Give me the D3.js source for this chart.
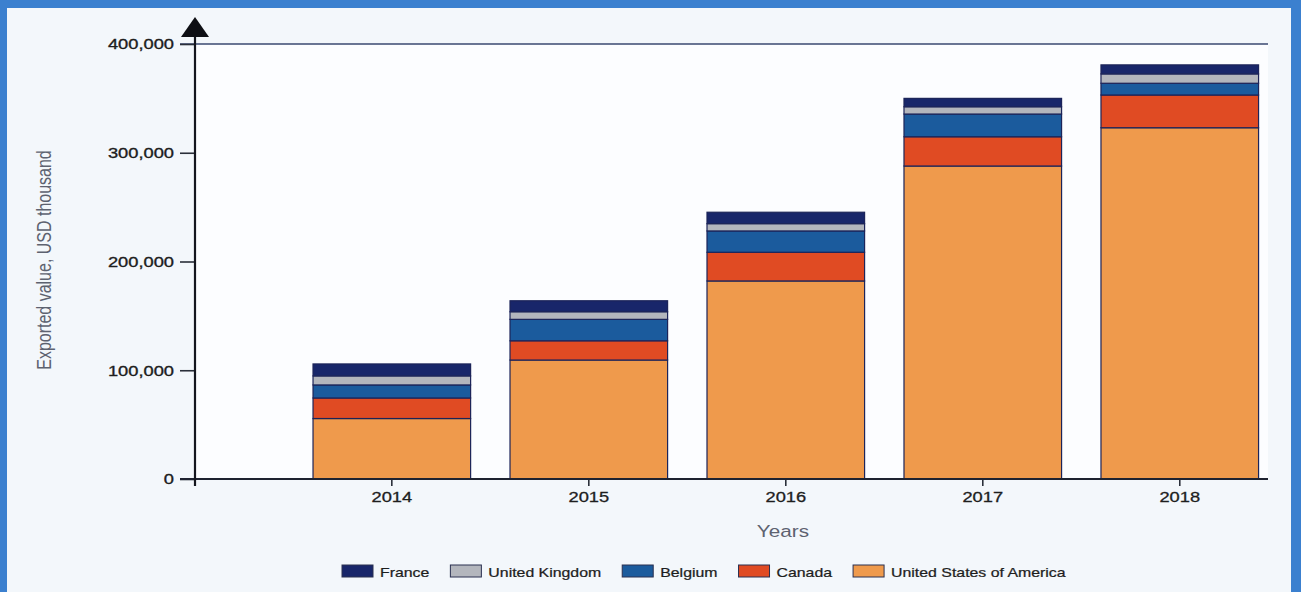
<!DOCTYPE html>
<html>
<head>
<meta charset="utf-8">
<script src="https://cdn.jsdelivr.net/npm/d3@7"></script>
<style>
  html, body { margin: 0; padding: 0; background: #3b80cf; }
  svg { display: block; }
  text { font-family: "Liberation Sans", Arial, sans-serif; }
</style>
</head>
<body>
<svg id="chart" width="1301" height="592"></svg>
<script>
// Export values (USD thousand) by destination, per year
const years = ["2014", "2015", "2016", "2017", "2018"];
const france = [11000, 10100, 10500, 7700, 8300];
const unitedKingdom = [8300, 7000, 6700, 6700, 8600];
const belgium = [12000, 19700, 19600, 20900, 10800];
const canada = [18900, 17700, 26400, 26900, 30100];
const usa = [55600, 109400, 182100, 287800, 323000];
const yTicks = [0, 100000, 200000, 300000, 400000];

// Stack order: bottom to top
const seriesNames = ["United States of America", "Canada", "Belgium", "United Kingdom", "France"];
const seriesValues = [usa, canada, belgium, unitedKingdom, france];
const seriesColors = ["#ef9a4c", "#e04b23", "#1b5b9d", "#b3b6bd", "#18266a"];
// Legend order, left to right
const legendNames = ["France", "United Kingdom", "Belgium", "Canada", "United States of America"];

const rows = years.map((yr, i) => {
  const r = { year: yr };
  seriesNames.forEach((n, k) => { r[n] = seriesValues[k][i]; });
  return r;
});

const svg = d3.select("#chart");
const W = 1301, H = 592;
const STRETCH = 1.22; // horizontally widened lettering

// Frame
svg.append("rect").attr("x", 0).attr("y", 0).attr("width", W).attr("height", H).attr("fill", "#3b80cf");
svg.append("rect").attr("x", 7).attr("y", 8).attr("width", 1284).attr("height", H - 8).attr("fill", "#f3f7fb");

const plot = { left: 195, right: 1268, top: 44, bottom: 479 };
svg.append("rect").attr("x", plot.left).attr("y", plot.top)
  .attr("width", plot.right - plot.left).attr("height", plot.bottom - plot.top)
  .attr("fill", "#fcfdff");

const x = d3.scaleBand().domain(years).range([plot.left, plot.right])
  .paddingInner(0.2).paddingOuter(0.3235).align(0.926);
const y = d3.scaleLinear().domain([0, 400000]).range([plot.bottom, plot.top]);

const stack = d3.stack().keys(seriesNames);
const layers = stack(rows);

// Bars
const g = svg.append("g");
layers.forEach((layer, k) => {
  g.selectAll(null).data(layer).enter().append("rect")
    .attr("x", d => x(d.data.year))
    .attr("width", x.bandwidth())
    .attr("y", d => y(d[1]))
    .attr("height", d => y(d[0]) - y(d[1]))
    .attr("fill", seriesColors[k])
    .attr("stroke", "#1c2459")
    .attr("stroke-width", 1.2);
});

// Top reference line at the axis maximum
svg.append("line")
  .attr("x1", 180).attr("x2", plot.right)
  .attr("y1", y(400000)).attr("y2", y(400000))
  .attr("stroke", "#3a4870").attr("stroke-width", 1.6);

// Y axis ticks and labels
const yAxis = d3.axisLeft(y).tickValues(yTicks).tickFormat(d3.format(",")).tickSize(15).tickPadding(6);
const gy = svg.append("g").attr("transform", `translate(${plot.left},0)`).call(yAxis);
gy.select(".domain").remove();
gy.selectAll(".tick line").attr("stroke", "#2a2f3a").attr("stroke-width", 1.6);
gy.selectAll(".tick text")
  .attr("fill", "#1e1e1e").attr("stroke", "#1e1e1e").attr("stroke-width", 0.35)
  .attr("font-size", 15)
  .attr("font-family", "Liberation Sans, Arial, sans-serif")
  .each(function () {
    const t = d3.select(this);
    t.attr("x", +t.attr("x") / STRETCH).attr("transform", `scale(${STRETCH},1)`);
  });

// X axis ticks and labels
const xAxis = d3.axisBottom(x).tickSize(7).tickPadding(5);
const gx = svg.append("g").attr("transform", `translate(0,${plot.bottom})`).call(xAxis);
gx.select(".domain").remove();
gx.selectAll(".tick line").attr("stroke", "#2a2f3a").attr("stroke-width", 1.6);
gx.selectAll(".tick text")
  .attr("fill", "#1e1e1e").attr("stroke", "#1e1e1e").attr("stroke-width", 0.3)
  .attr("font-size", 15)
  .attr("font-family", "Liberation Sans, Arial, sans-serif")
  .attr("transform", `scale(${STRETCH},1)`);

// Axis lines
svg.append("line").attr("x1", 180).attr("x2", plot.right)
  .attr("y1", plot.bottom).attr("y2", plot.bottom)
  .attr("stroke", "#1e2230").attr("stroke-width", 2);
svg.append("line").attr("x1", plot.left).attr("x2", plot.left)
  .attr("y1", 36).attr("y2", plot.bottom + 7)
  .attr("stroke", "#14161e").attr("stroke-width", 2.2);
// Arrow head
svg.append("path")
  .attr("d", `M${plot.left},17 L${plot.left - 14},37 L${plot.left + 14},37 Z`)
  .attr("fill", "#0e0f14");

// Axis titles
svg.append("text")
  .attr("transform", `translate(783,537) scale(${STRETCH},1)`)
  .attr("text-anchor", "middle").attr("font-size", 17).attr("fill", "#5d6270")
  .text("Years");
svg.append("text")
  .attr("transform", `translate(51,260) rotate(-90) scale(1,${STRETCH})`)
  .attr("text-anchor", "middle").attr("font-size", 16).attr("fill", "#5d6270")
  .text("Exported value, USD thousand");

// Legend
const legend = svg.append("g").attr("transform", "translate(342,565)");
let lx = 0;
legendNames.forEach(name => {
  const k = seriesNames.indexOf(name);
  const item = legend.append("g").attr("transform", `translate(${lx},0)`);
  item.append("rect").attr("x", 0).attr("y", 0).attr("width", 31).attr("height", 12)
    .attr("fill", seriesColors[k]).attr("stroke", "#2a3050").attr("stroke-width", 1);
  const t = item.append("text")
    .attr("transform", `translate(38,11.5) scale(${STRETCH},1)`)
    .attr("font-size", 13).attr("fill", "#1e1e1e")
    .attr("stroke", "#1e1e1e").attr("stroke-width", 0.25)
    .text(name);
  const w = t.node().getComputedTextLength() * STRETCH;
  lx += 38 + w + 21;
});
</script>
</body>
</html>
